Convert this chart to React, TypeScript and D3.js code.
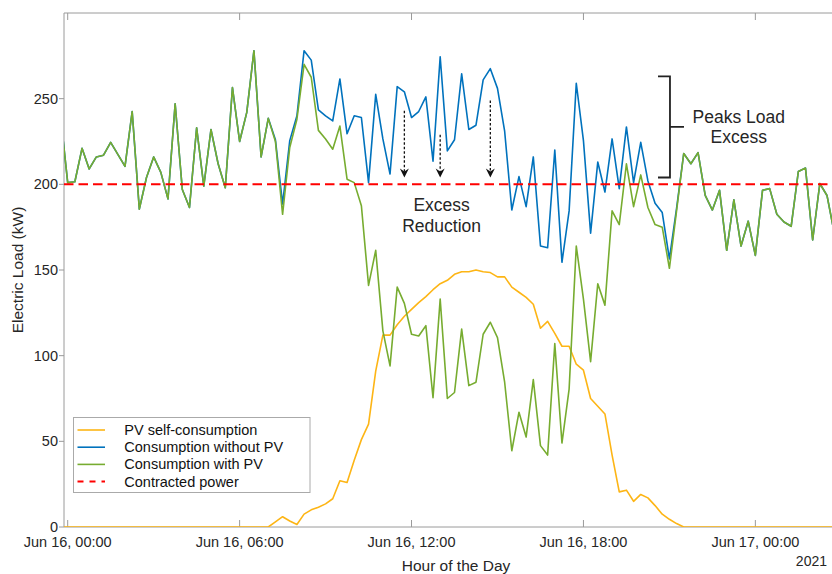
import { useEffect, useRef } from "react";
import * as d3 from "d3";

// 15 min samples, first one is Jun 15 23:45 (clipped by the axes)
const startTime = new Date(2021, 5, 15, 23, 45);

const pvSelfConsumption = [
  0, 0, 0, 0, 0, 0, 0, 0, 0, 0, 0, 0, 0, 0, 0, 0, 0, 0, 0, 0, 0, 0, 0, 0, 0, 0, 0, 0, 0, 0,
  3, 6, 3.5, 1.5, 7.5, 10, 11.5, 13.5, 16.5, 27, 26, 39, 51, 60, 91, 112, 112, 118, 123, 127,
  131, 134.5, 138.5, 142, 144, 147.5, 149, 149, 150, 149, 148.5, 146, 146, 140, 137, 134, 130,
  116, 120, 113, 105.5, 105.5, 95, 91.5, 75, 70.5, 66, 42, 20.5, 21.5, 15, 19, 17, 12.5, 7.5,
  4.5, 2,
  0, 0, 0, 0, 0, 0, 0, 0, 0, 0, 0, 0, 0, 0, 0, 0, 0, 0, 0, 0, 0, 0,
];

const consumptionWithoutPV = [
  240, 201, 201.5, 221, 209, 216, 217, 224.5, 217.5, 210.5, 242.5, 185.5, 204, 216, 207, 191.5,
  247, 197, 186.5, 233, 199, 232, 212, 198, 256.5, 225, 242, 278, 216, 238.5,
  226, 188.5, 225.5, 240, 278, 272.5, 243.5, 240, 237, 261.5, 229.5, 240, 239, 201, 252.5, 226.5,
  206, 257, 254, 239, 242.5, 251, 213.5, 274.5, 219.5, 226, 264.5, 232, 234.5, 261, 267.5, 256,
  231, 185, 204.5, 187, 216, 164, 163, 220, 154.5, 184.5, 259, 225.5, 171.5, 213, 195.5, 226.5,
  197.5, 233.5, 201, 224.5, 202, 189, 183.5, 156.5, 186,
  218, 212, 218.5, 193.5, 185, 196.5, 161.5, 191, 164, 178.5, 158.5, 196.5, 197.5, 182.5, 178,
  175.5, 207.5, 209.5, 167.5, 200.5, 193.5, 172,
];

const consumptionWithPV = [
  240, 201, 201.5, 221, 209, 216, 217, 224.5, 217.5, 210.5, 242.5, 185.5, 204, 216, 207, 191.5,
  247, 197, 186.5, 233, 199, 232, 212, 198, 256.5, 225, 242, 278, 216, 238.5,
  225, 182.5, 221.5, 238, 270, 262.5, 231.5, 226.5, 220.5, 234, 203, 201, 187.5, 141, 161.5,
  114.5, 94, 140, 130.5, 112.5, 111.5, 117.5, 75.5, 133, 75, 78.5, 115.5, 82.5, 84.5, 112.5,
  119.5, 110.5, 84.5, 44.5, 67, 52.5, 86, 47.5, 42, 107, 49, 80.5, 164, 133, 96.5, 142, 129.5,
  184.5, 176.5, 212, 187, 205.5, 186.5, 176.5, 175, 151, 184.5,
  218, 212, 218.5, 193.5, 185, 196.5, 161.5, 191, 164, 178.5, 158.5, 196.5, 197.5, 182.5, 178,
  175.5, 207.5, 209.5, 167.5, 200.5, 193.5, 172,
];

const contractedPower = 200;
const yTicks = [0, 50, 100, 150, 200, 250];
const legendLabels = [
  "PV self-consumption",
  "Consumption without PV",
  "Consumption with PV",
  "Contracted power",
];
const colors = ["#fdb515", "#0072bd", "#77ac30", "#ff0000"];

// annotations in data units: [hours after Jun 16 00:00, top value, tip value]
const arrows = [
  [11.75, 243, 204],
  [13.0, 229, 204],
  [14.75, 249, 204],
];

const FONT = "'Liberation Sans', Arial, Helvetica, sans-serif";

const App = () => {
  const svgRef = useRef(null);

  useEffect(() => {
    const WIDTH = 832;
    const HEIGHT = 574;
    const M = { left: 64, top: 13, right: 848, bottom: 527 };

    const svg = d3.select(svgRef.current).attr("width", WIDTH).attr("height", HEIGHT);
    svg.selectAll("*").remove();

    const t0 = new Date(2021, 5, 16, 0, 0);
    const hrs = (h) => new Date(t0.getTime() + h * 3600 * 1000);

    const x = d3
      .scaleTime()
      .domain([new Date(2021, 5, 15, 23, 52, 15), new Date(2021, 5, 17, 3, 14)])
      .range([M.left, M.right]);
    const y = d3.scaleLinear().domain([0, 300]).range([M.bottom, M.top]);

    const times = consumptionWithPV.map((_, i) => d3.timeMinute.offset(startTime, 15 * i));

    svg
      .append("defs")
      .append("clipPath")
      .attr("id", "plot-clip")
      .append("rect")
      .attr("x", M.left)
      .attr("y", M.top)
      .attr("width", M.right - M.left)
      .attr("height", M.bottom - M.top);

    const axisColor = "#9a9a9a";
    const textColor = "#262626";

    // spines
    svg.append("line").attr("x1", M.left).attr("x2", M.left).attr("y1", M.top).attr("y2", M.bottom)
      .attr("stroke", axisColor);
    svg.append("line").attr("x1", M.left).attr("x2", WIDTH).attr("y1", M.top).attr("y2", M.top)
      .attr("stroke", axisColor);
    svg.append("line").attr("x1", M.left).attr("x2", WIDTH).attr("y1", M.bottom).attr("y2", M.bottom)
      .attr("stroke", axisColor);

    // x ticks
    const xTicks = x.ticks(d3.timeHour.every(6));
    const fmt = d3.timeFormat("%b %d, %H:%M");
    const xt = svg.append("g");
    xTicks.forEach((d) => {
      const px = x(d);
      xt.append("line").attr("x1", px).attr("x2", px).attr("y1", M.bottom).attr("y2", M.bottom - 7)
        .attr("stroke", axisColor);
      xt.append("line").attr("x1", px).attr("x2", px).attr("y1", M.top).attr("y2", M.top + 7)
        .attr("stroke", axisColor);
      xt.append("text").attr("x", px).attr("y", 547).attr("text-anchor", "middle")
        .attr("font-family", FONT).attr("font-size", 14.5).attr("fill", textColor).text(fmt(d));
    });
    svg.append("text").attr("x", 827).attr("y", 566).attr("text-anchor", "end")
      .attr("font-family", FONT).attr("font-size", 14).attr("fill", textColor).text("2021");

    // y ticks
    const yt = svg.append("g");
    yTicks.forEach((v) => {
      const py = y(v);
      yt.append("line").attr("x1", M.left - 5).attr("x2", M.left).attr("y1", py).attr("y2", py)
        .attr("stroke", axisColor);
      yt.append("text").attr("x", 58).attr("y", py).attr("dy", "0.35em").attr("text-anchor", "end")
        .attr("font-family", FONT).attr("font-size", 14.5).attr("fill", textColor).text(v);
    });

    // axis titles
    svg.append("text").attr("x", 456).attr("y", 571).attr("text-anchor", "middle")
      .attr("font-family", FONT).attr("font-size", 15.5).attr("fill", textColor).text("Hour of the Day");
    svg.append("text").attr("transform", "translate(23, 270) rotate(-90)").attr("text-anchor", "middle")
      .attr("font-family", FONT).attr("font-size", 15.5).attr("fill", textColor).text("Electric Load (kW)");

    // series
    const plot = svg.append("g").attr("clip-path", "url(#plot-clip)");
    const line = d3.line().x((d, i) => x(times[i])).y((d) => y(d));

    [pvSelfConsumption, consumptionWithoutPV, consumptionWithPV].forEach((series, k) => {
      plot.append("path").datum(series).attr("d", line).attr("fill", "none")
        .attr("stroke", colors[k]).attr("stroke-width", 1.6).attr("stroke-linejoin", "round");
    });

    plot.append("line").attr("x1", M.left).attr("x2", M.right)
      .attr("y1", y(contractedPower)).attr("y2", y(contractedPower))
      .attr("stroke", colors[3]).attr("stroke-width", 2).attr("stroke-dasharray", "9.5,5");

    // excess reduction arrows
    arrows.forEach(([h, top, tip]) => {
      const px = x(hrs(h));
      const yTip = y(tip);
      svg.append("line").attr("x1", px).attr("x2", px).attr("y1", y(top)).attr("y2", yTip - 5)
        .attr("stroke", "#111").attr("stroke-width", 1.3).attr("stroke-dasharray", "2.5,2");
      svg.append("path")
        .attr("d", `M${px},${yTip} L${px - 4.5},${yTip - 9} L${px},${yTip - 6} L${px + 4.5},${yTip - 9} Z`)
        .attr("fill", "#111");
    });

    const addText = (h, v, str) =>
      svg.append("text").attr("x", x(hrs(h))).attr("y", y(v)).attr("text-anchor", "middle")
        .attr("font-family", FONT).attr("font-size", 17.5).attr("fill", textColor).text(str);

    addText(13.05, 184.5, "Excess");
    addText(13.05, 172, "Reduction");

    // peaks bracket
    const bx = x(hrs(21.02));
    const bTop = y(263);
    const bBot = y(204);
    const bMid = y(233.5);
    svg.append("path")
      .attr("d", `M${bx - 12},${bTop} H${bx} V${bBot} H${bx - 12} M${bx},${bMid} H${bx + 14}`)
      .attr("fill", "none").attr("stroke", "#222").attr("stroke-width", 1.8);
    addText(23.42, 236, "Peaks Load");
    addText(23.42, 224, "Excess");

    // legend
    const lg = svg.append("g");
    lg.append("rect").attr("x", 73.5).attr("y", 417.5).attr("width", 236.5).attr("height", 75)
      .attr("fill", "#fff").attr("stroke", "#aaa").attr("stroke-width", 1);
    legendLabels.forEach((label, i) => {
      const ly = 430 + i * 17.2;
      lg.append("line").attr("x1", 77.5).attr("x2", 105).attr("y1", ly).attr("y2", ly)
        .attr("stroke", colors[i]).attr("stroke-width", i === 3 ? 2 : 1.6)
        .attr("stroke-dasharray", i === 3 ? "6,6" : null);
      lg.append("text").attr("x", 124.3).attr("y", ly).attr("dy", "0.35em")
        .attr("font-family", FONT).attr("font-size", 14.5).attr("fill", "#111").text(label);
    });
  }, []);

  return (
    <svg
      ref={svgRef}
      style={{ position: "absolute", left: 0, top: 0, background: "#fff" }}
    />
  );
};

export default App;
